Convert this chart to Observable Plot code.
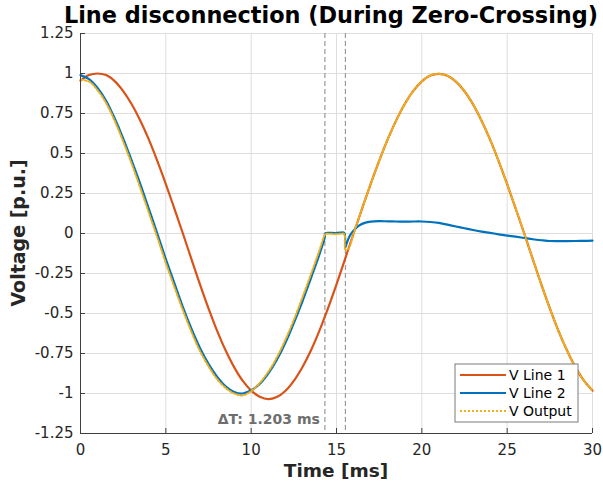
<!DOCTYPE html>
<html>
<head>
<meta charset="utf-8">
<script src="https://cdn.jsdelivr.net/npm/d3@7"></script>
<script src="https://cdn.jsdelivr.net/npm/@observablehq/plot@0.6"></script>
<style>
  html, body { margin: 0; padding: 0; background: #fff; }
</style>
</head>
<body>
<script>
// ---- Data ----
const titleText = "Line disconnection (During Zero-Crossing)";
const xLabel = "Time [ms]";
const yLabel = "Voltage [p.u.]";
const seriesNames = ["V Line 1", "V Line 2", "V Output"];
const seriesColors = ["#D95319", "#0072BD", "#EDB120"];

const xTicks = [0, 5, 10, 15, 20, 25, 30];
const xTickLabels = ["0", "5", "10", "15", "20", "25", "30"];
const yTicks = [-1.25, -1, -0.75, -0.5, -0.25, 0, 0.25, 0.5, 0.75, 1, 1.25];
const yTickLabels = ["-1.25", "-1", "-0.75", "-0.5", "-0.25", "0", "0.25", "0.5", "0.75", "1", "1.25"];

// disconnection interval (dashed markers) and its annotation
const cutTimes = [14.32, 15.523];
const deltaLabel = "\u0394T: 1.203 ms";
const deltaLabelY = -1.16;

// V Line 1 (orange)
const timeMs = [0,0.5,1,1.5,2,2.5,3,3.5,4,4.5,5,5.5,6,6.5,7,7.5,8,8.5,9,9.5,10,10.5,11,11.5,12,12.5,13,13.5,14,14.5,15,15.5,16,16.5,17,17.5,18,18.5,19,19.5,20,20.5,21,21.5,22,22.5,23,23.5,24,24.5,25,25.5,26,26.5,27,27.5,28,28.5,29,29.5,30];
const vLine1 = [0.955,0.99,1.0,0.99,0.952,0.89,0.808,0.706,0.588,0.454,0.309,0.156,0.0,-0.16,-0.318,-0.468,-0.607,-0.73,-0.835,-0.92,-0.982,-1.02,-1.035,-1.022,-0.984,-0.921,-0.836,-0.731,-0.607,-0.468,-0.318,-0.16,0.0,0.156,0.309,0.454,0.588,0.707,0.809,0.891,0.951,0.988,0.998,0.986,0.949,0.889,0.807,0.705,0.587,0.453,0.308,0.155,0.0,-0.16,-0.318,-0.468,-0.607,-0.73,-0.835,-0.92,-0.982];

// V Line 2 (blue)
const tLine2 = [0,0.5,1,1.5,2,2.5,3,3.5,4,4.5,5,5.5,6,6.5,7,7.5,8,8.5,9,9.5,10,10.5,11,11.5,12,12.5,13,13.5,14,14.3,14.35,14.6,14.9,15.2,15.45,15.52,15.6,15.75,15.9,16.1,16.4,16.7,17,17.5,18,18.5,19,19.5,20,20.5,21,21.5,22,22.5,23,23.5,24,24.5,25,25.5,26,26.5,27,27.5,28,28.5,29,29.5,30];
const vLine2 = [0.99,0.965,0.91,0.83,0.72,0.595,0.455,0.31,0.155,0.0,-0.16,-0.31,-0.46,-0.595,-0.715,-0.815,-0.895,-0.955,-0.99,-1.0,-0.98,-0.94,-0.875,-0.79,-0.685,-0.56,-0.425,-0.28,-0.13,-0.03,0.002,0.004,0.003,0.005,0.004,-0.085,-0.06,-0.02,0.005,0.03,0.055,0.068,0.074,0.077,0.076,0.075,0.074,0.075,0.075,0.072,0.066,0.055,0.044,0.033,0.022,0.012,0.004,-0.005,-0.013,-0.02,-0.028,-0.036,-0.042,-0.047,-0.048,-0.048,-0.047,-0.046,-0.045];

// V Output (yellow dotted)
const tOutput = [0,0.5,1,1.5,2,2.5,3,3.5,4,4.5,5,5.5,6,6.5,7,7.5,8,8.5,9,9.5,10,10.5,11,11.5,12,12.5,13,13.5,14,14.3,14.35,14.6,14.9,15.2,15.45,15.52,15.7,16,16.5,17,17.5,18,18.5,19,19.5,20,20.5,21,21.5,22,22.5,23,23.5,24,24.5,25,25.5,26,26.5,27,27.5,28,28.5,29,29.5,30];
const vOutput = [0.96,0.95,0.895,0.815,0.705,0.575,0.435,0.285,0.13,-0.025,-0.185,-0.335,-0.48,-0.615,-0.735,-0.83,-0.91,-0.965,-1.0,-1.012,-0.985,-0.935,-0.865,-0.775,-0.665,-0.54,-0.4,-0.255,-0.105,-0.01,-0.003,-0.002,-0.004,-0.002,-0.003,-0.1,-0.095,0.0,0.156,0.309,0.454,0.588,0.707,0.809,0.891,0.951,0.988,0.998,0.986,0.949,0.889,0.807,0.705,0.587,0.453,0.308,0.155,0.0,-0.16,-0.318,-0.468,-0.607,-0.73,-0.835,-0.92,-0.982];

// ---- Build tables ----
const line1 = timeMs.map((t, i) => ({t, v: vLine1[i]}));
const line2 = tLine2.map((t, i) => ({t, v: vLine2[i]}));
const output = tOutput.map((t, i) => ({t, v: vOutput[i]}));

const W = 603, H = 485;
const mL = 80, mR = 11, mT = 33, mB = 52;
const frameW = W - mL - mR, frameH = H - mT - mB;
const tickLen = 5;

const svg = Plot.plot({
  width: W,
  height: H,
  marginLeft: mL,
  marginRight: mR,
  marginTop: mT,
  marginBottom: mB,
  style: {fontFamily: "DejaVu Sans, sans-serif", fontSize: "15px", color: "#262626", background: "#fff"},
  x: {domain: [0, 30], label: null},
  y: {domain: [-1.25, 1.25], label: null},
  marks: [
    Plot.gridX(xTicks, {stroke: "#dedede", strokeOpacity: 1}),
    Plot.gridY(yTicks, {stroke: "#dedede", strokeOpacity: 1}),
    Plot.ruleX(cutTimes, {stroke: "#9a9a9a", strokeWidth: 1.2, strokeDasharray: "5,3"}),
    Plot.line(line1, {x: "t", y: "v", stroke: seriesColors[0], strokeWidth: 2.2, curve: "catmull-rom"}),
    Plot.line(line2, {x: "t", y: "v", stroke: seriesColors[1], strokeWidth: 2.2, curve: "catmull-rom"}),
    Plot.line(output, {x: "t", y: "v", stroke: seriesColors[2], strokeWidth: 2, strokeDasharray: "2,2", curve: "catmull-rom"}),
    Plot.text([deltaLabel], {x: cutTimes[0], y: deltaLabelY, text: d => d, textAnchor: "end", dx: -5, fontWeight: "bold", fontSize: 14, fill: "#6e6e6e"}),
    // inward ticks
    Plot.tickY(yTicks, {y: d => d, stroke: "#404040", insetRight: frameW - tickLen}),
    Plot.tickX(xTicks, {x: d => d, stroke: "#404040", insetTop: frameH - tickLen}),
    // axis lines (box off: left and bottom only)
    Plot.ruleX([0], {stroke: "#404040"}),
    Plot.ruleY([-1.25], {stroke: "#404040"}),
    Plot.axisY(yTicks, {tickSize: 0, tickPadding: 7, tickFormat: d => yTickLabels[yTicks.indexOf(d)], label: null, fill: "#262626"}),
    Plot.axisX(xTicks, {tickSize: 0, tickPadding: 11, tickFormat: d => xTickLabels[xTicks.indexOf(d)], label: null, fill: "#262626"})
  ]
});

const s = d3.select(svg);
// Title
s.append("text")
  .attr("x", mL + frameW / 2 - 5).attr("y", 23)
  .attr("text-anchor", "middle")
  .attr("font-size", 22.4).attr("font-weight", "bold").attr("fill", "#000")
  .text(titleText);
// X label
s.append("text")
  .attr("x", mL + frameW / 2).attr("y", 477)
  .attr("text-anchor", "middle")
  .attr("font-size", 18.5).attr("font-weight", "bold").attr("fill", "#262626")
  .text(xLabel);
// Y label
s.append("text")
  .attr("transform", `translate(25,${mT + frameH / 2}) rotate(-90)`)
  .attr("text-anchor", "middle")
  .attr("font-size", 19).attr("font-weight", "bold").attr("fill", "#262626")
  .text(yLabel);

// Legend
const lg = s.append("g").attr("transform", "translate(455,364)");
lg.append("rect").attr("width", 123).attr("height", 58)
  .attr("fill", "#fff").attr("stroke", "#7a7a7a").attr("stroke-width", 1);
seriesNames.forEach((name, i) => {
  const y = 11 + i * 18;
  lg.append("line").attr("x1", 5).attr("x2", 51).attr("y1", y).attr("y2", y)
    .attr("stroke", seriesColors[i]).attr("stroke-width", 2)
    .attr("stroke-dasharray", i === 2 ? "2,2" : null);
  lg.append("text").attr("x", 54).attr("y", y).attr("dy", "0.35em")
    .attr("text-anchor", "start")
    .attr("font-size", 14).attr("fill", "#000").text(name);
});

document.body.append(svg);
</script>
</body>
</html>
